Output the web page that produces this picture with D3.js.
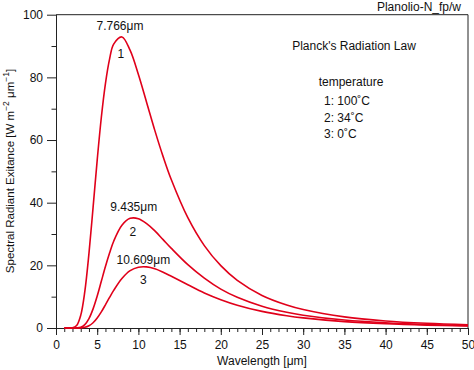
<!DOCTYPE html>
<html lang="en">
<head>
<meta charset="utf-8" />
<script src="https://cdn.jsdelivr.net/npm/d3@7"></script>
<style>
body { margin: 0; background: #fff; }
svg text { font-family: 'Liberation Sans', Arial, Helvetica, sans-serif; font-size: 12px; fill: #111; }
.curve { fill: none; stroke: #e0001a; stroke-width: 1.6; }
.axis path, .axis line { stroke: #222; }
</style>
</head>
<body>
<div id="chart"></div>
<script>
// wavelength samples (um)
var wavelengths = [1, 1.5, 2, 2.5, 3, 3.5, 4, 4.5, 5, 5.5, 6, 6.5, 7, 8, 9, 10, 11, 12, 13, 14, 16, 18, 20, 22, 25, 28, 30, 35, 40, 45, 50];

// exitance, W m-2 um-1
var curve100C = [0, 0, 0.05, 0.77, 4.03, 11.7, 23.8, 38.5, 53.6, 67.2, 78.0, 85.8, 90.6, 92.9, 88.6, 80.9, 72.0, 63.0, 54.7, 47.3, 35.2, 26.3, 19.9, 15.2, 10.4, 7.34, 5.89, 3.55, 2.25, 1.50, 1.03];
var curve34C = [0, 0, 0, 0.03, 0.25, 1.10, 3.00, 6.11, 10.2, 14.9, 19.6, 23.9, 27.7, 32.8, 35.0, 34.9, 33.3, 31.0, 28.2, 25.4, 20.2, 15.9, 12.4, 9.80, 6.95, 5.02, 4.09, 2.53, 1.64, 1.11, 0.77];
var curve0C = [0, 0, 0, 0, 0.04, 0.21, 0.70, 1.67, 3.19, 5.15, 7.41, 9.76, 12.0, 15.8, 18.3, 19.4, 19.5, 18.9, 17.8, 16.5, 13.8, 11.2, 9.05, 7.29, 5.30, 3.91, 3.22, 2.03, 1.34, 0.91, 0.64];

// peak annotations
var curveIds = ['1', '2', '3'];
var peakWavelengths = [7.766, 9.435, 10.609];
var peakValues = [93.1, 35.2, 19.6];
var peakLabels = ['7.766\u03bcm', '9.435\u03bcm', '10.609\u03bcm'];

var legendLines = ['1: 100\u02daC', '2: 34\u02daC', '3: 0\u02daC'];

var xTicks = [0, 5, 10, 15, 20, 25, 30, 35, 40, 45, 50];
var yTicks = [0, 20, 40, 60, 80, 100];

var width = 474, height = 370;
var plotLeft = 56, plotRight = 468, plotTop = 14.7, plotBottom = 328;

var svg = d3.select('#chart').append('svg')
  .attr('width', width)
  .attr('height', height);

var x = d3.scaleLinear().domain([0, 50]).range([plotLeft, plotRight]);
var y = d3.scaleLinear().domain([0, 100]).range([plotBottom, plotTop]);

// minor ticks
svg.append('g').attr('class', 'axis')
  .attr('transform', 'translate(0,' + plotBottom + ')')
  .call(d3.axisBottom(x).tickValues(d3.range(0, 51, 1)).tickSize(4).tickSizeOuter(0).tickFormat(''));
svg.append('g').attr('class', 'axis')
  .attr('transform', 'translate(' + plotLeft + ',0)')
  .call(d3.axisLeft(y).tickValues(d3.range(10, 100, 20)).tickSize(4.5).tickSizeOuter(0).tickFormat(''));

// major ticks + labels
svg.append('g').attr('class', 'axis')
  .attr('transform', 'translate(0,' + plotBottom + ')')
  .call(d3.axisBottom(x).tickValues(xTicks).tickSize(7).tickSizeOuter(0).tickPadding(5));
svg.append('g').attr('class', 'axis')
  .attr('transform', 'translate(' + plotLeft + ',0)')
  .call(d3.axisLeft(y).tickValues(yTicks).tickSize(9).tickSizeOuter(0).tickPadding(4));

svg.selectAll('.axis text').style('font-size', '12px').attr('fill', '#111');

// frame top/right
svg.append('path')
  .attr('d', 'M' + plotLeft + ',' + plotTop + 'H' + plotRight + 'V' + plotBottom)
  .attr('fill', 'none')
  .attr('stroke', '#222');

var line = d3.line()
  .x(function(d) { return x(d[0]); })
  .y(function(d) { return y(d[1]); })
  .curve(d3.curveCatmullRom.alpha(0.5));

[curve100C, curve34C, curve0C].forEach(function(vals) {
  svg.append('path')
    .attr('class', 'curve')
    .attr('d', line(wavelengths.map(function(w, i) { return [w, vals[i]]; })));
});

// peak labels
var labelDy = [-6, -7, -3];
var idDy = [22, 18, 17];
var idDx = [0.1, -0.1, 0];
curveIds.forEach(function(id, i) {
  svg.append('text')
    .attr('x', x(peakWavelengths[i]))
    .attr('y', y(peakValues[i]) + labelDy[i])
    .attr('text-anchor', 'middle')
    .text(peakLabels[i]);
  svg.append('text')
    .attr('x', x(peakWavelengths[i] + idDx[i]))
    .attr('y', y(peakValues[i]) + idDy[i])
    .attr('text-anchor', 'middle')
    .text(id);
});

// annotations
svg.append('text').attr('x', 461).attr('y', 11).attr('text-anchor', 'end').text('Planolio-N_fp/w');
svg.append('text').attr('x', 354).attr('y', 50).attr('text-anchor', 'middle').text("Planck's Radiation Law");
svg.append('text').attr('x', 351).attr('y', 86).attr('text-anchor', 'middle').text('temperature');
legendLines.forEach(function(t, i) {
  svg.append('text').attr('x', 324).attr('y', 105 + i * 16.5).text(t);
});

// axis titles
svg.append('text')
  .attr('x', (plotLeft + plotRight) / 2)
  .attr('y', 365)
  .attr('text-anchor', 'middle')
  .text('Wavelength [\u03bcm]');

var yl = svg.append('text')
  .attr('transform', 'translate(14,171) rotate(-90)')
  .attr('text-anchor', 'middle')
  .style('font-size', '11.5px');
yl.append('tspan').text('Spectral Radiant Exitance [W m');
yl.append('tspan').attr('dy', -5).style('font-size', '8.5px').text('\u22122');
yl.append('tspan').attr('dy', 5).text(' \u03bcm');
yl.append('tspan').attr('dy', -5).style('font-size', '8.5px').text('\u22121');
yl.append('tspan').attr('dy', 5).text(']');
</script>
</body>
</html>
